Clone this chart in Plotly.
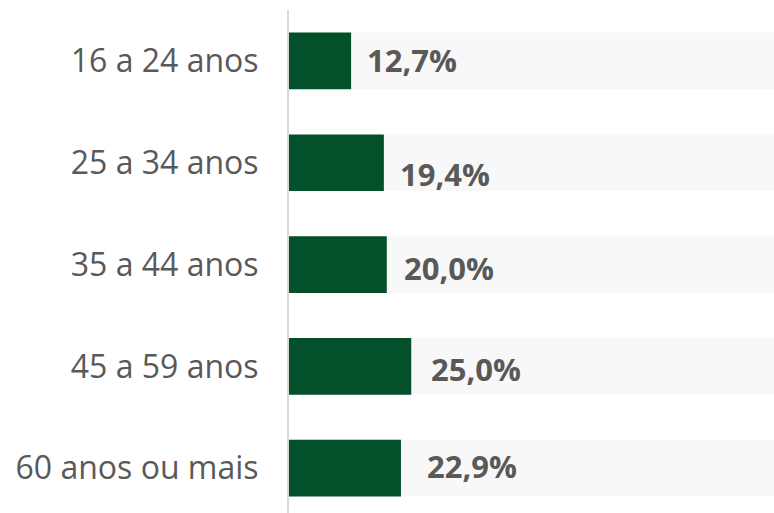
import plotly.graph_objects as go

categories = ["16 a 24 anos", "25 a 34 anos", "35 a 44 anos", "45 a 59 anos", "60 anos ou mais"]
values = [12.7, 19.4, 20.0, 25.0, 22.9]
background = [100, 100, 100, 100, 100]
value_labels = ["12,7%", "19,4%", "20,0%", "25,0%", "22,9%"]

# label placement offsets (style, pixels)
label_xshift = [14, 14, 15, 18, 24]
label_yshift = [1, -11, -3, -3, 2]

GREEN = "#03502A"
TEXT = "#595959"

fig = go.Figure()
fig.add_trace(go.Bar(
    y=categories, x=background, orientation="h",
    marker=dict(color="#F8F8F8", line=dict(width=0)),
    hoverinfo="skip", showlegend=False,
))
fig.add_trace(go.Bar(
    y=categories, x=values, orientation="h",
    marker=dict(color=GREEN, line=dict(width=0)),
    showlegend=False,
))

for c, v, t, xs, ys in zip(categories, values, value_labels, label_xshift, label_yshift):
    fig.add_annotation(
        x=v, y=c, text=t, showarrow=False,
        xanchor="left", yanchor="middle", xshift=xs, yshift=ys,
        font=dict(family="Open Sans", size=31, color=TEXT, weight="bold"),
    )

fig.update_layout(
    width=774, height=513, autosize=False,
    margin=dict(l=289, r=0, t=10, b=0),
    paper_bgcolor="white", plot_bgcolor="white",
    barmode="overlay", bargap=0.443,
    xaxis=dict(range=[0, 99.2], visible=False, fixedrange=True),
    yaxis=dict(
        type="category", range=[4.44, -0.5],
        showline=True, linecolor="#D9D9D9", linewidth=2,
        showgrid=False, zeroline=False,
        ticks="outside", ticklen=22, tickcolor="rgba(0,0,0,0)",
        tickfont=dict(family="Open Sans", size=32, color=TEXT),
    ),
)

fig.write_html(
    "out.html",
    default_width="774px", default_height="513px",
    config={"responsive": False, "displayModeBar": False},
    post_script="document.body.style.margin='0';document.body.style.overflow='hidden';",
)
